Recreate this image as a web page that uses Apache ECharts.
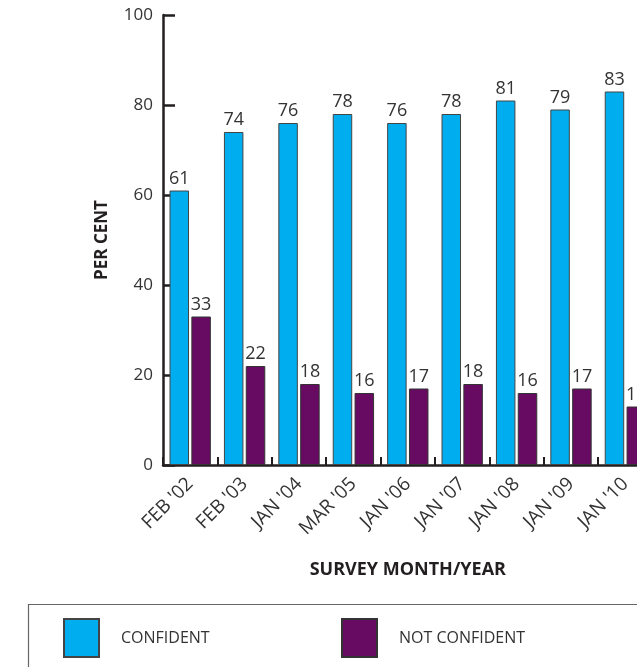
<!DOCTYPE html>
<html>
<head>
<meta charset="utf-8">
<script src="https://cdn.jsdelivr.net/npm/echarts@6/dist/echarts.min.js"></script>
<style>
html,body{margin:0;padding:0;background:#fff;}
#c{width:637px;height:667px;}
</style>
</head>
<body>
<div id="c"></div>
<script>
const categories = ["FEB '02", "FEB '03", "JAN '04", "MAR '05", "JAN '06", "JAN '07", "JAN '08", "JAN '09", "JAN '10"];
const confident = [61, 74, 76, 78, 76, 78, 81, 79, 83];
const notConfident = [33, 22, 18, 16, 17, 18, 16, 17, 13];
const yTicks = [0, 20, 40, 60, 80, 100];

const FONT = '"Open Sans", "Noto Sans", sans-serif';
const chart = echarts.init(document.getElementById('c'), null, {renderer: 'canvas'});
const labelStyle = {show: true, position: 'top', distance: 3, fontSize: 18, color: '#333', fontFamily: FONT};
chart.setOption({
  animation: false,
  backgroundColor: '#fff',
  grid: {left: 163, top: 15, height: 450, width: 489.6, containLabel: false, outerBoundsMode: 'none'},
  xAxis: {
    type: 'category',
    data: categories,
    name: 'SURVEY MONTH/YEAR',
    nameLocation: 'middle',
    nameGap: 96,
    nameTextStyle: {fontSize: 18, fontWeight: 'bold', color: '#231f20', fontFamily: FONT},
    axisLine: {lineStyle: {color: '#231f20', width: 2.5}},
    axisTick: {show: true, inside: true, length: 8, lineStyle: {color: '#231f20', width: 2}},
    axisLabel: {rotate: 45, fontSize: 19, color: '#333', margin: 16, fontFamily: FONT, interval: 0}
  },
  yAxis: {
    type: 'value',
    min: yTicks[0],
    max: yTicks[yTicks.length - 1],
    interval: 20,
    name: 'PER CENT',
    nameLocation: 'middle',
    nameRotate: 90,
    nameGap: 52,
    nameTextStyle: {fontSize: 17, fontWeight: 'bold', color: '#231f20', fontFamily: FONT},
    axisLine: {show: true, lineStyle: {color: '#231f20', width: 2.5}},
    axisTick: {show: true, inside: true, length: 12, lineStyle: {color: '#231f20', width: 2.5}},
    axisLabel: {fontSize: 17, color: '#333', margin: 10, fontFamily: FONT},
    splitLine: {show: false}
  },
  legend: [
    {data: ['CONFIDENT'], left: 63, top: 618, padding: 0, itemWidth: 35, itemHeight: 38, icon: 'rect',
     textStyle: {fontSize: 16, color: '#333', fontFamily: FONT, padding: [0, 0, 0, 17]}},
    {data: ['NOT CONFIDENT'], left: 341, top: 618, padding: 0, itemWidth: 35, itemHeight: 38, icon: 'rect',
     textStyle: {fontSize: 16, color: '#333', fontFamily: FONT, padding: [0, 0, 0, 17]}}
  ],
  graphic: [{
    type: 'rect', left: 26, top: 602, silent: true,
    shape: {width: 700, height: 100},
    style: {fill: 'none', stroke: '#666', lineWidth: 1.2}
  }],
  series: [
    {name: 'CONFIDENT', type: 'bar', data: confident, barWidth: 19.5, barGap: '12%',
     itemStyle: {color: '#00aeef', borderColor: '#444', borderWidth: 1}, label: labelStyle},
    {name: 'NOT CONFIDENT', type: 'bar', data: notConfident, barWidth: 19.5, barGap: '12%',
     itemStyle: {color: '#670a62', borderColor: '#333', borderWidth: 1}, label: labelStyle}
  ]
});
</script>
</body>
</html>
